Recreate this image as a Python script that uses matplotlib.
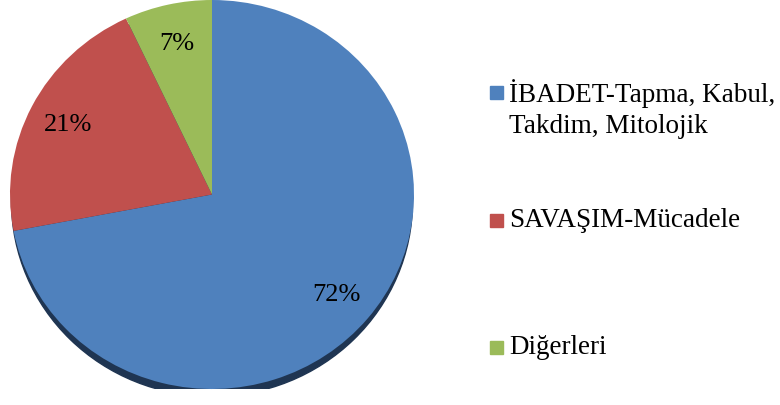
import matplotlib.pyplot as plt
from matplotlib.patches import Ellipse, Rectangle

categories = ['İBADET-Tapma, Kabul,\nTakdim, Mitolojik', 'SAVAŞIM-Mücadele', 'Diğerleri']
values = [72, 21, 7]
colors = ['#4F81BD', '#C0504D', '#9BBB59']

plt.rcParams['font.family'] = ['Liberation Serif', 'DejaVu Serif']

W, H = 780, 406
fig = plt.figure(figsize=(W / 100, H / 100), dpi=100)

# pie box in pixels: x 10..414, y 1..390 (from top)
ax = fig.add_axes([10 / W, (H - 390) / H, 404 / W, 389 / H])

# dark shadow under the pie, shifted down a bit
ax.add_patch(Ellipse((0.0, -0.038), 1.985, 2.0, color='#1F3552', zorder=0))

wedges, texts, autotexts = ax.pie(
    values, colors=colors, startangle=90, counterclock=False,
    autopct='%1.0f%%', pctdistance=0.8,
    wedgeprops=dict(linewidth=0), textprops=dict(fontsize=19, color='black'))
for w in wedges:
    w.set_zorder(1)
ax.set_aspect('auto')
ax.set_xlim(-1, 1)
ax.set_ylim(-1, 1)

# legend, placed by hand like the original
leg_y = [109, 221, 348]
sq_y = [93, 221, 348]
for lab, col, ty, sy in zip(categories, colors, leg_y, sq_y):
    fig.add_artist(Rectangle((490 / W, (H - sy - 6.5) / H), 13 / W, 13 / H,
                             transform=fig.transFigure, color=col))
    fig.text(509 / W, (H - ty) / H, lab, fontsize=19.5, va='center', ha='left',
             linespacing=1.3)

fig.savefig('out.png', dpi=100)
